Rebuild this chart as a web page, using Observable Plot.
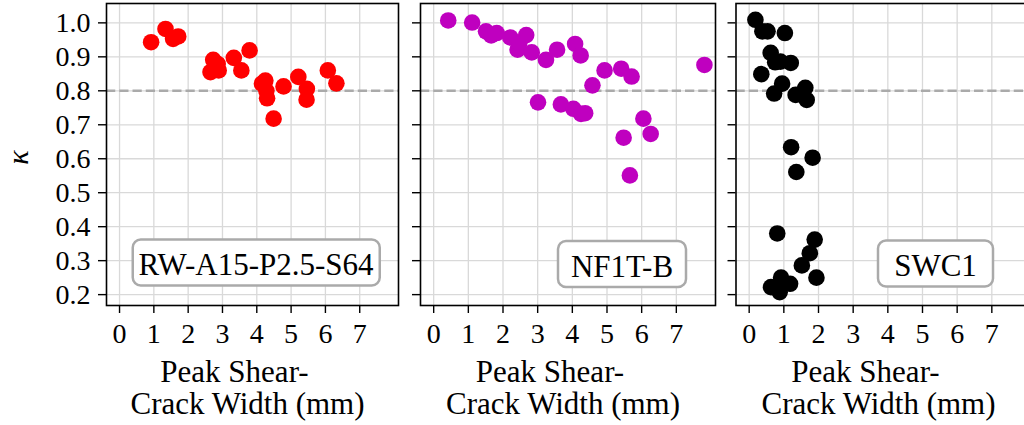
<!DOCTYPE html>
<html><head><meta charset="utf-8">
<script src="https://cdn.jsdelivr.net/npm/d3@7"></script>
<script src="https://cdn.jsdelivr.net/npm/@observablehq/plot@0.6"></script>
<style>
html,body{margin:0;padding:0;background:#fff;overflow:hidden;}
#chart{position:relative;width:1024px;height:425px;overflow:hidden;background:#fff;}
#chart svg{position:absolute;top:0;}
</style></head><body><div id="chart"></div>
<script>
// ---- data ----
const xTicks = [0, 1, 2, 3, 4, 5, 6, 7];
const yTicks = [0.2, 0.3, 0.4, 0.5, 0.6, 0.7, 0.8, 0.9, 1.0];
const threshold = 0.8;
const specimenNames = ["RW-A15-P2.5-S64", "NF1T-B", "SWC1"];
const xLabelLines = ["Peak Shear-", "Crack Width (mm)"];
const yLabel = "κ";

const rwX = [0.92,1.34,1.56,1.71,2.73,2.86,2.65,2.89,3.33,3.55,3.79,4.25,4.15,4.28,4.30,4.49,4.78,5.21,5.46,5.45,6.07,6.32];
const rwY = [0.943,0.982,0.953,0.960,0.891,0.879,0.855,0.860,0.897,0.860,0.919,0.830,0.821,0.800,0.778,0.718,0.813,0.841,0.806,0.774,0.860,0.822];

const nfX = [0.42,1.11,1.51,1.66,1.82,2.21,2.42,2.47,2.67,2.83,3.24,3.56,4.08,4.24,4.58,4.93,5.41,5.71,7.81,3.01,3.67,4.03,4.25,4.37,6.05,6.26,5.48,5.66];
const nfY = [1.007,1.001,0.975,0.963,0.970,0.957,0.921,0.940,0.964,0.913,0.891,0.921,0.938,0.904,0.816,0.860,0.865,0.842,0.876,0.766,0.760,0.747,0.732,0.734,0.718,0.673,0.662,0.551];

const swX = [0.18,0.38,0.53,1.03,0.62,0.75,0.90,1.20,0.35,0.95,0.72,1.34,1.62,1.66,1.48,1.21,1.83,1.36,0.81,1.89,1.75,1.52,1.94,0.92,0.63,0.88,1.18,0.98];
const swY = [1.009,0.975,0.975,0.970,0.912,0.884,0.886,0.882,0.849,0.821,0.792,0.788,0.809,0.773,0.790,0.634,0.603,0.561,0.380,0.362,0.322,0.286,0.250,0.250,0.222,0.207,0.232,0.236];

const seriesX = [rwX, nfX, swX];
const seriesY = [rwY, nfY, swY];
const colors = ["#ff0000", "#bf00bf", "#000000"];

// ---- layout ----
const layout = [
  {left: 0,   width: 400, ml: 106,  mr: 2,   labelDx: 149.5, labelDy: -40, boxW: 247, yLabels: true},
  {left: 400, width: 320, ml: 20,   mr: 5,   labelDx: 201.5, labelDy: -38.5, boxW: 128, yLabels: false},
  {left: 715, width: 320, ml: 20.5, mr: 4.5, labelDx: 199.5, labelDy: -39, boxW: 115, yLabels: false}
];

const FONT = "'Liberation Serif', 'Times New Roman', serif";
const LABEL_SIZE = 31;
const chart = document.getElementById("chart");

layout.forEach((L, i) => {
  const data = seriesX[i].map((x, k) => ({x, y: seriesY[i][k]}));
  const marks = [
    Plot.gridX(xTicks, {stroke: "#d9d9d9", strokeOpacity: 1, strokeWidth: 1.3}),
    Plot.gridY(yTicks, {stroke: "#d9d9d9", strokeOpacity: 1, strokeWidth: 1.3}),
    Plot.ruleY([threshold], {stroke: "#aaaaaa", strokeWidth: 2.5, strokeDasharray: "9.25,4"}),
    Plot.dot(data, {x: "x", y: "y", r: 8.3, fill: colors[i], stroke: "none"}),
    Plot.axisX(xTicks, {tickSize: 8, tickPadding: 10, tickFormat: d => String(d), label: null, stroke: "black", strokeWidth: 1.4}),
    Plot.axisY(yTicks, {tickSize: 8, tickPadding: 8, tickFormat: L.yLabels ? d3.format(".1f") : () => "", label: null, stroke: "black", strokeWidth: 1.4}),
    Plot.text([specimenNames[i]], {frameAnchor: "bottom-left", text: d => d, dx: L.labelDx, dy: L.labelDy, textAnchor: "middle", lineAnchor: "middle", fontSize: LABEL_SIZE, fill: "black"}),
    Plot.text([xLabelLines[0]], {frameAnchor: "bottom", text: d => d, dx: -18, dy: 76, lineAnchor: "bottom", fontSize: LABEL_SIZE, fill: "black"}),
    Plot.text([xLabelLines[1]], {frameAnchor: "bottom", text: d => d, dx: -5, dy: 108, lineAnchor: "bottom", fontSize: LABEL_SIZE, fill: "black"}),
    Plot.frame({stroke: "black", strokeWidth: 1.6})
  ];
  if (L.yLabels) {
    marks.push(Plot.text([yLabel], {frameAnchor: "left", text: d => d, dx: -79, dy: 3, rotate: -90, lineAnchor: "bottom", textAnchor: "middle", fontSize: 30, fontStyle: "italic", fill: "black"}));
  }
  const svg = Plot.plot({
    width: L.width,
    height: 425,
    marginLeft: L.ml,
    marginRight: L.mr,
    marginTop: 3,
    marginBottom: 120,
    x: {domain: [-0.38, 8.13]},
    y: {domain: [0.168, 1.057]},
    style: {fontFamily: FONT, fontSize: "28px", background: "transparent", color: "black", overflow: "visible"},
    marks
  });
  svg.style.left = L.left + "px";
  chart.appendChild(svg);

  // rounded label box behind the specimen name
  const t = Array.from(svg.querySelectorAll("text")).find(el => el.textContent === specimenNames[i]);
  if (t) {
    const bb = t.getBBox();
    const h = 46;
    const cx = bb.x + bb.width / 2;
    const cy = bb.y + bb.height / 2 - 2.5;
    const rect = document.createElementNS("http://www.w3.org/2000/svg", "rect");
    rect.setAttribute("x", cx - L.boxW / 2);
    rect.setAttribute("y", cy - h / 2);
    rect.setAttribute("width", L.boxW);
    rect.setAttribute("height", h);
    rect.setAttribute("rx", 8);
    rect.setAttribute("fill", "white");
    rect.setAttribute("stroke", "#aaaaaa");
    rect.setAttribute("stroke-width", 2.5);
    const tr = t.getAttribute("transform");
    if (tr) rect.setAttribute("transform", tr);
    t.parentNode.insertBefore(rect, t);
  }
});
</script></body></html>
